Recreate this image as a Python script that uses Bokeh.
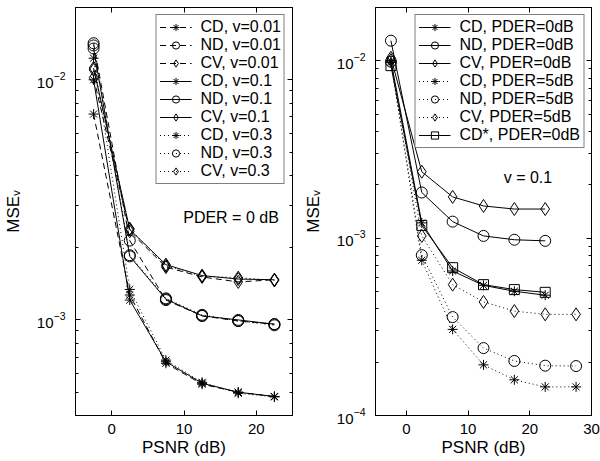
from bokeh.plotting import figure
from bokeh.layouts import row
from bokeh.models import FixedTicker, LogAxis, LinearAxis, Label, Range1d
from bokeh.embed import file_html
from bokeh.resources import INLINE

FONT = "Liberation Sans"

# ---------------- data ----------------
psnr = [-2.5, 2.5, 7.5, 12.5, 17.5, 22.5]
psnr_ext = [-2.5, 2.5, 7.5, 12.5, 17.5, 22.5, 27.5]

# left panel (PDER = 0 dB)
cd_v001 = [0.0072, 0.00127, 0.00066, 0.00054, 0.00050, 0.00048]
nd_v001 = [0.0142, 0.00214, 0.00121, 0.00104, 0.00099, 0.00096]
cv_v001 = [0.0102, 0.00234, 0.00166, 0.00151, 0.00144, 0.00147]
cd_v01 = [0.0100, 0.00121, 0.00067, 0.000545, 0.00050, 0.00048]
nd_v01 = [0.0135, 0.00184, 0.00122, 0.00104, 0.00100, 0.00096]
cv_v01 = [0.0112, 0.00238, 0.00170, 0.00153, 0.00148, 0.00147]
cd_v03 = [0.0123, 0.00134, 0.00068, 0.00055, 0.000495, 0.000478]
nd_v03 = [0.0139, 0.00186, 0.00123, 0.00105, 0.00099, 0.00095]
cv_v03 = [0.0110, 0.00240, 0.00168, 0.00152, 0.00150, 0.00146]

# right panel (v = 0.1)
cd_p0 = [0.0100, 0.00122, 0.000653, 0.000542, 0.000502, 0.000477]
nd_p0 = [0.0130, 0.00181, 0.00124, 0.00103, 0.00098, 0.000966]
cv_p0 = [0.0104, 0.00237, 0.00171, 0.00152, 0.00146, 0.00146]
cd_p5 = [0.0098, 0.000751, 0.000306, 0.000193, 0.000159, 0.000145, 0.000145]
nd_p5 = [0.0099, 0.000802, 0.000359, 0.000240, 0.000203, 0.000191, 0.000190]
cv_p5 = [0.0101, 0.00103, 0.000547, 0.000437, 0.000388, 0.000372, 0.000372]
cdstar_p0 = [0.0094, 0.00118, 0.000682, 0.000547, 0.000513, 0.000495]

left_labels = ["CD, v=0.01", "ND, v=0.01", "CV, v=0.01",
               "CD, v=0.1", "ND, v=0.1", "CV, v=0.1",
               "CD, v=0.3", "ND, v=0.3", "CV, v=0.3"]
right_labels = ["CD, PDER=0dB", "ND, PDER=0dB", "CV, PDER=0dB",
                "CD, PDER=5dB", "ND, PDER=5dB", "CV, PDER=5dB",
                "CD*, PDER=0dB"]
left_note = "PDER = 0 dB"
right_note = "v = 0.1"
x_title = "PSNR (dB)"
y_title = "MSE\u1d65"

left_xticks = [0, 10, 20]
right_xticks = [0, 10, 20, 30]

# ---------------- styles ----------------
DASH = {"solid": "solid", "dashed": "6 4", "dotted": "1 3"}
MSIZE = {"asterisk": 10, "circle": 11, "diamond": 13, "square": 10}


def make_fig(xr, yr, xticks, yticks, yminor, left_border, right_border):
    p = figure(width=300, height=461, y_axis_type="log",
               x_range=Range1d(*xr), y_range=Range1d(*yr),
               output_backend="svg", toolbar_location=None,
               min_border_left=left_border, min_border_right=right_border,
               min_border_top=7, min_border_bottom=46)
    p.grid.visible = False
    p.outline_line_color = "black"
    p.outline_line_width = 1
    p.background_fill_color = "white"
    p.border_fill_color = "white"
    bx = p.below[0]
    ly = p.left[0]
    xt = FixedTicker(ticks=xticks, minor_ticks=[])
    yt = FixedTicker(ticks=yticks, minor_ticks=yminor)
    bx.ticker = xt
    ly.ticker = yt
    top = LinearAxis(ticker=xt)
    right = LogAxis(ticker=yt)
    p.add_layout(top, "above")
    p.add_layout(right, "right")
    for ax in [top, right]:
        ax.major_label_text_font_size = "0px"
        ax.major_label_standoff = 0
        ax.major_label_text_alpha = 0
    for ax in [bx, ly, top, right]:
        ax.axis_line_color = "black"
        ax.major_tick_line_color = "black"
        ax.minor_tick_line_color = "black"
        ax.major_tick_in = 5
        ax.major_tick_out = 0
        ax.minor_tick_in = 3
        ax.minor_tick_out = 0
    for ax in [bx, ly]:
        ax.major_label_text_font = FONT
        ax.major_label_text_font_size = "15px"
        ax.major_label_text_color = "black"
        ax.axis_label_text_font = FONT
        ax.axis_label_text_font_size = "17px"
        ax.axis_label_text_font_style = "normal"
        ax.axis_label_text_color = "black"
    bx.axis_label = x_title
    bx.major_label_standoff = 8
    bx.axis_label_standoff = 1
    ly.axis_label = y_title
    ly.major_label_standoff = 10
    ly.axis_label_standoff = 11
    return p


def add_series(p, x, y, label, marker, dash):
    p.line(x, y, line_color="black", line_width=1, line_dash=DASH[dash],
           legend_label=label)
    p.scatter(x, y, marker=marker, size=MSIZE[marker], line_color="black",
              fill_color=None, line_width=1, legend_label=label)


def style_legend(p, gh):
    lg = p.legend[0]
    lg.location = "top_right"
    lg.margin = 7
    lg.padding = 3
    lg.spacing = 0
    lg.label_height = gh
    lg.glyph_height = gh
    lg.glyph_width = 32
    lg.label_standoff = 9
    lg.label_text_font = FONT
    lg.label_text_font_size = "16px"
    lg.label_text_color = "black"
    lg.border_line_color = "black"
    lg.border_line_width = 1
    lg.background_fill_alpha = 1


# ---------------- left ----------------
p1 = make_fig((-5, 25), (4e-4, 2e-2), left_xticks, [1e-3, 1e-2],
              [5e-4, 6e-4, 7e-4, 8e-4, 9e-4, 2e-3, 3e-3, 4e-3, 5e-3, 6e-3,
               7e-3, 8e-3, 9e-3], 75, 8)
left_series = [(cd_v001, "asterisk", "dashed"), (nd_v001, "circle", "dashed"),
               (cv_v001, "diamond", "dashed"), (cd_v01, "asterisk", "solid"),
               (nd_v01, "circle", "solid"), (cv_v01, "diamond", "solid"),
               (cd_v03, "asterisk", "dotted"), (nd_v03, "circle", "dotted"),
               (cv_v03, "diamond", "dotted")]
for (vals, m, d), lab in zip(left_series, left_labels):
    add_series(p1, psnr, vals, lab, m, d)
style_legend(p1, 18)
p1.add_layout(Label(x=16.5, y=0.00266, text=left_note, text_align="center",
                    text_baseline="middle", text_font=FONT,
                    text_font_size="16px", text_color="black"))

# ---------------- right ----------------
p2 = make_fig((-5, 30), (1e-4, 2e-2), right_xticks, [1e-4, 1e-3, 1e-2],
              [2e-4, 3e-4, 4e-4, 5e-4, 6e-4, 7e-4, 8e-4, 9e-4, 2e-3, 3e-3,
               4e-3, 5e-3, 6e-3, 7e-3, 8e-3, 9e-3], 73, 9)
right_series = [(psnr, cd_p0, "asterisk", "solid"), (psnr, nd_p0, "circle", "solid"),
                (psnr, cv_p0, "diamond", "solid"), (psnr_ext, cd_p5, "asterisk", "dotted"),
                (psnr_ext, nd_p5, "circle", "dotted"), (psnr_ext, cv_p5, "diamond", "dotted"),
                (psnr, cdstar_p0, "square", "solid")]
for (xs, vals, m, d), lab in zip(right_series, right_labels):
    add_series(p2, xs, vals, lab, m, d)
style_legend(p2, 18)
p2.add_layout(Label(x=19.7, y=0.0022, text=right_note, text_align="center",
                    text_baseline="middle", text_font=FONT,
                    text_font_size="16px", text_color="black"))

layout = row(p1, p2, spacing=0)
open("out.html", "w").write(file_html(layout, INLINE))
